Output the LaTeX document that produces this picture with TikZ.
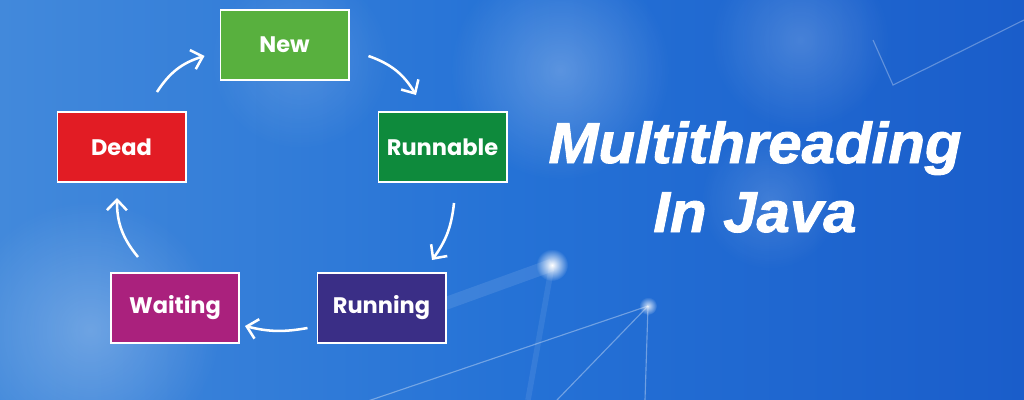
\documentclass[tikz,border=0pt]{standalone}
\usepackage{fontspec}
\usepackage{tikz}
\usetikzlibrary{arrows.meta,fadings}
\newfontfamily\boxfont{Poppins}[BoldFont=* Bold]
\newfontfamily\titlefont{Liberation Sans}[FakeStretch=1.04, FakeBold=1.6]
\definecolor{bgleft}{HTML}{4289DB}
\definecolor{bgmid}{HTML}{2572D6}
\definecolor{bgright}{HTML}{1A5DCA}
\definecolor{newgreen}{HTML}{58B03E}
\definecolor{runnablegreen}{HTML}{0E8A3C}
\definecolor{deadred}{HTML}{E21C24}
\definecolor{waitingpurple}{HTML}{AA217D}
\definecolor{runningblue}{HTML}{3A2E86}
\tikzfading[name=softglow, inner color=transparent!0, outer color=transparent!100]

\begin{document}
\begin{tikzpicture}[x={(0.025cm,0cm)}, y={(0cm,-0.025cm)},
        state/.style={draw=white, line width=1.4pt, minimum width=3.2cm, minimum height=1.75cm,
            text=white, font=\boxfont\bfseries\fontsize{16}{18}\selectfont},
        flow/.style={draw=white, line width=1.8pt,
            -{Straight Barb[length=2.6mm,width=5mm]}},
        title/.style={text=white, anchor=base, inner sep=0pt,
            font=\titlefont\bfseries\itshape\fontsize{41}{49}\selectfont},
        glow/.style={fill=white, path fading=softglow}]
    % background
    \useasboundingbox (0,0) rectangle (1024,400);
    \shade[left color=bgleft, right color=bgright, middle color=bgmid] (0,0) rectangle (1024,400);
    \fill[glow, opacity=0.25] (560,70) circle (110);
    \fill[glow, opacity=0.25] (90,330) circle (130);
    \fill[glow, opacity=0.18] (800,40) circle (90);
    \fill[glow, opacity=0.15] (770,200) circle (70);
    \fill[glow, opacity=0.15] (300,60) circle (90);
    % network lines
    \draw[white, opacity=0.35, line width=0.8pt] (648,306) -- (250,441);
    \draw[white, opacity=0.35, line width=0.8pt] (648,306) -- (557,400);
    \draw[white, opacity=0.35, line width=0.8pt] (648,306) -- (645,400);
    \draw[white, opacity=0.1, line width=9pt] (552,265) -- (400,320);
    \draw[white, opacity=0.08, line width=4pt] (552,265) -- (528,400);
    \draw[white, opacity=0.3, line width=0.8pt] (873,40) -- (893,85) -- (1024,20);
    \fill[glow, opacity=1] (552,265) circle (16);
    \fill[glow, opacity=0.8] (648,306) circle (9);

    % states
    \node[state, fill=newgreen] (new) at (284.5,45) {New};
    \node[state, fill=runnablegreen] (runnable) at (442.5,147) {Runnable};
    \node[state, fill=runningblue] (running) at (381.5,308) {Running};
    \node[state, fill=waitingpurple] (waiting) at (175,308) {Waiting};
    \node[state, fill=deadred] (dead) at (121.5,147) {Dead};

    % transitions
    \draw[flow] ([shift={(35.5,-19)}]dead.north) to[bend left=20] ([shift={(-15,11)}]new.west);
    \draw[flow] ([shift={(19,11)}]new.east) to[bend left=20] ([shift={(-26.5,-16)}]runnable.north);
    \draw[flow] ([shift={(11.5,20)}]runnable.south) to[bend left=15] ([shift={(50.5,-12)}]running.north);
    \draw[flow] ([shift={(-9,20)}]running.west) to[bend left=12] ([shift={(5,18)}]waiting.east);
    \draw[flow] ([shift={(-37,-15)}]waiting.north) to[bend left=20] ([shift={(-4.5,15)}]dead.south);

    % title
    \node[title] (multi) at (755,163) {Multithreading};
    \node[title] (java) at (755,232) {In Java};
\end{tikzpicture}
\end{document}
